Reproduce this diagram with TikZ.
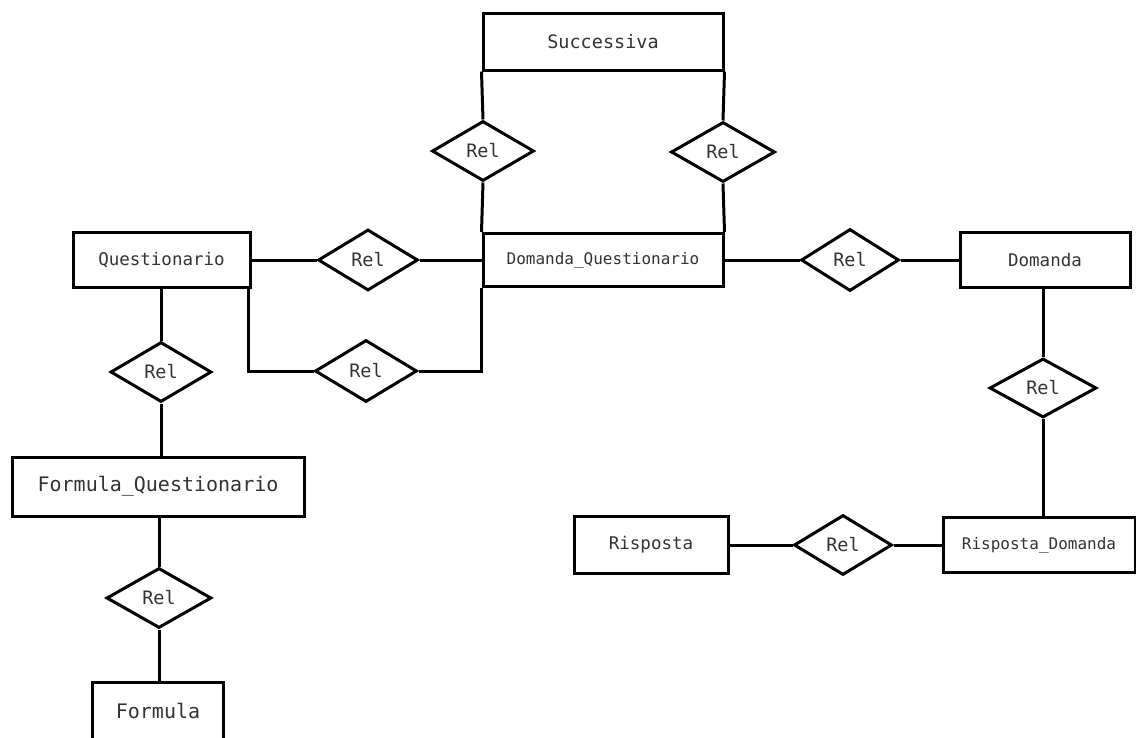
\documentclass[tikz,border=0pt]{standalone}
\usepackage{fontspec}
\setmonofont{DejaVu Sans Mono}
\usetikzlibrary{shapes.geometric}
\definecolor{txt}{HTML}{333333}
\newcommand\fsz[1]{\fontsize{#1}{#1}\selectfont}
\begin{document}
\begin{tikzpicture}[x=1pt,y=-1pt,line width=3pt,
  ent/.style={draw, rectangle, inner sep=0pt, font=\ttfamily, text=txt},
  rel/.style={draw, diamond, inner sep=0pt, minimum width=102pt, minimum height=60pt,
              font=\ttfamily\fsz{18.5}, text=txt}]
\useasboundingbox (0,0) rectangle (1136,737);
\fill[white] (0,0) rectangle (1136,737);
\clip (0,0) rectangle (1136,737);

% entities
\node[ent, minimum width=240pt, minimum height=57pt] (succ) at (603,41.5) {\fsz{18.5}Successiva};
\node[ent, minimum width=240pt, minimum height=53pt] (dq) at (603,260) {\fsz{16}Domanda\_Questionario};
\node[ent, minimum width=177pt, minimum height=55pt] (quest) at (161.5,260) {\fsz{17.5}Questionario};
\node[ent, minimum width=292pt, minimum height=59pt] (fq) at (158,486.5) {\fsz{20}Formula\_Questionario};
\node[ent, minimum width=131pt, minimum height=58pt] (formula) at (158,711) {\fsz{20}Formula};
\node[ent, minimum width=170pt, minimum height=55pt] (dom) at (1045,260) {\fsz{17.5}Domanda};
\node[ent, minimum width=192pt, minimum height=55pt] (rd) at (1039,545) {\fsz{16}Risposta\_Domanda};
\node[ent, minimum width=154pt, minimum height=57pt] (risp) at (651,545) {\fsz{17.5}Risposta};

% relationships
\node[rel] (relSL) at (483,151) {Rel};
\node[rel, minimum width=104pt] (relSR) at (723,152) {Rel};
\node[rel, minimum width=100pt, minimum height=61pt] (relQD) at (368,260) {Rel};
\node[rel, minimum height=62pt] (relQD2) at (366,371) {Rel};
\node[rel, minimum width=101pt] (relQF) at (161,372) {Rel};
\node[rel, minimum width=105pt] (relFF) at (159,598) {Rel};
\node[rel, minimum width=98pt, minimum height=62pt] (relDD) at (850,260) {Rel};
\node[rel, minimum width=107pt, minimum height=59pt] (relDR) at (1043,388) {Rel};
\node[rel, minimum width=98pt] (relRR) at (843,545) {Rel};

% connectors
\draw (succ.south west) -- (relSL.north);
\draw (relSL.south) -- (dq.north west);
\draw (succ.south east) -- (relSR.north);
\draw (relSR.south) -- (dq.north east);
\draw (quest.east) -- (relQD.west);
\draw (relQD.east) -- (dq.west);
\draw ([xshift=-3pt]quest.south east) |- (relQD2.west);
\draw (relQD2.east) -| (dq.south west);
\draw (relQF.north |- quest.south) -- (relQF.north);
\draw (relQF.south) -- (relQF.south |- fq.north);
\draw (relFF.north |- fq.south) -- (relFF.north);
\draw (relFF.south) -- (relFF.south |- formula.north);
\draw (dq.east) -- (relDD.west);
\draw (relDD.east) -- (dom.west);
\draw (dom.south -| relDR.north) -- (relDR.north);
\draw (relDR.south) -- (relDR.south |- rd.north);
\draw (risp.east) -- (relRR.west);
\draw (relRR.east) -- (rd.west);
\end{tikzpicture}
\end{document}
